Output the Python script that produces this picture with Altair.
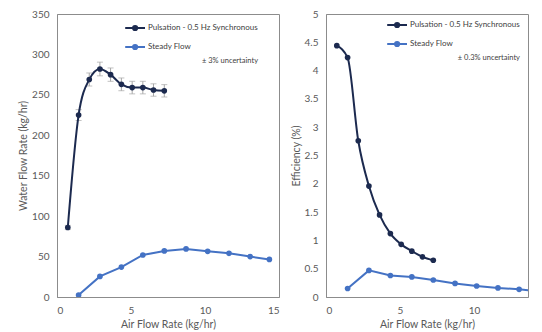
import altair as alt
import pandas as pd

series = ["Pulsation - 0.5 Hz Synchronous", "Steady Flow"]
colors = ["#1c2a4f", "#4472c4"]

air_pulse = [0.73, 1.46, 2.18, 2.9, 3.62, 4.35, 5.08, 5.8, 6.52, 7.25]
water_pulse = [86, 225, 269, 282, 275, 263, 259, 259, 256, 255]
eff_pulse = [4.44, 4.23, 2.76, 1.96, 1.45, 1.12, 0.93, 0.81, 0.71, 0.65]

air_steady = [1.46, 2.9, 4.35, 5.8, 7.25, 8.72, 10.18, 11.62, 13.05, 14.35]
water_steady = [2.5, 25.5, 37, 52, 57, 59.5, 56.5, 54, 50, 46.5]
eff_steady = [0.15, 0.47, 0.38, 0.355, 0.30, 0.24, 0.195, 0.16, 0.135, 0.105]

water_unc = 0.03

FONT = "Lato"
TEXT = "#595959"
SYM = "M-2.3,0L1,0M-1.0,0A0.35,0.35,0,1,0,-0.3,0A0.35,0.35,0,1,0,-1.0,0Z"

pulse_w = pd.DataFrame({"series": series[0], "air": air_pulse, "val": water_pulse})
pulse_w["lo"] = pulse_w["val"] * (1 - water_unc)
pulse_w["hi"] = pulse_w["val"] * (1 + water_unc)
steady_w = pd.DataFrame({"series": series[1], "air": air_steady, "val": water_steady})
pulse_e = pd.DataFrame({"series": series[0], "air": air_pulse, "val": eff_pulse})
steady_e = pd.DataFrame({"series": series[1], "air": air_steady, "val": eff_steady})


def legend(title, lx, ly):
    return alt.Legend(
        title=title, orient="none", legendX=lx, legendY=ly, padding=0,
        titleOrient="bottom", titleAnchor="end", titleFontSize=7.5,
        titleFontWeight="normal", titleColor="#404040", titleFont=FONT,
        titlePadding=4, symbolType=SYM, symbolSize=144, symbolStrokeWidth=2,
        labelFontSize=8, labelFont=FONT, labelColor="#404040", labelOffset=2,
        rowPadding=5, labelLimit=300,
    )


def panel(pdf, sdf, ytitle, ydom, yvals, xdom, leg, width, yfmt, err=False):
    x = alt.X("air:Q", title="Air Flow Rate (kg/hr)",
              scale=alt.Scale(domain=xdom, nice=False),
              axis=alt.Axis(values=[0, 5, 10, 15]))
    yscale = alt.Scale(domain=ydom, nice=False)
    yaxis = alt.Axis(values=yvals, format=yfmt)
    y = alt.Y("val:Q", title=ytitle, scale=yscale, axis=yaxis)
    sc = alt.Scale(domain=series, range=colors)
    layers = []
    if err:
        layers.append(
            alt.Chart(pdf).mark_errorbar(ticks=alt.MarkConfig(size=6, color="#a6a6a6"),
                                         color="#a6a6a6", thickness=1)
            .encode(x=x, y=alt.Y("lo:Q", title=ytitle, scale=yscale, axis=yaxis), y2="hi:Q")
        )
    layers += [
        alt.Chart(pdf).mark_line(strokeWidth=2, interpolate="monotone", clip=True).encode(
            x=x, y=y, stroke=alt.Stroke("series:N", scale=sc, legend=leg)),
        alt.Chart(sdf).mark_line(strokeWidth=2, clip=True).encode(
            x=x, y=y, stroke=alt.Stroke("series:N", scale=sc, legend=leg)),
        alt.Chart(pd.concat([pdf, sdf])).mark_point(filled=True, size=32, opacity=1, clip=True).encode(
            x=x, y=y, fill=alt.Fill("series:N", scale=sc, legend=leg)),
    ]
    return alt.layer(*layers).properties(width=width, height=283)


left = panel(pulse_w, steady_w, "Water Flow Rate (kg/hr)", [0, 350],
             list(range(0, 351, 50)), [0, 15],
             legend("± 3% uncertainty", 75, 7), 222, "d", err=True)
right = panel(pulse_e, steady_e, "Efficiency (%)", [0, 5],
              [i * 0.5 for i in range(11)], [0, 13.65],
              legend("± 0.3% uncertainty", 68, 4), 202, "~g")

chart = (
    alt.hconcat(left, right, spacing=10)
    .resolve_scale(x="independent", y="independent", stroke="independent", fill="independent")
    .properties(padding={"left": 10, "top": 0, "right": 0, "bottom": 0})
    .configure_view(stroke="#8c8c8c", strokeWidth=1)
    .configure_axis(grid=False, ticks=False, domainColor="#8c8c8c", labelColor=TEXT,
                    titleColor=TEXT, labelFont=FONT, titleFont=FONT, labelFontSize=10,
                    titleFontSize=10.5, titleFontWeight="normal", labelPadding=8)
    .configure_axisY(titlePadding=3)
    .configure_axisX(titlePadding=4)
)

chart.save("out.html", embed_options={"renderer": "svg", "actions": False})
